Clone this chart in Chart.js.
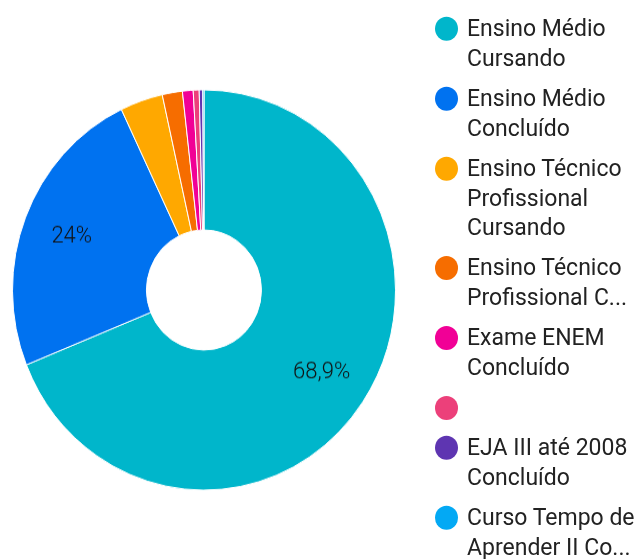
<!DOCTYPE html>
<html>
<head>
<meta charset="utf-8">
<script src="https://cdn.jsdelivr.net/npm/chart.js@4"></script>
<style>
  html, body { margin: 0; padding: 0; background: #fff; }
  #wrap {
    position: absolute; left: 0; top: 0;
    width: 639px; height: 535px;
    transform: scaleY(1.045); transform-origin: 0 0;
  }
  #chartBox { position: absolute; left: 0; top: 0; width: 639px; height: 535px; }
  #legend {
    position: absolute; left: 435px; top: 13.4px;
    margin: 0; padding: 0; list-style: none;
    font-family: Roboto, sans-serif; font-size: 23px; line-height: 28.7px; color: #222;
  }
  #legend li { display: flex; align-items: flex-start; margin-bottom: 9.4px; }
  #legend .dot { width: 23px; height: 23px; border-radius: 50%; margin-top: 2.85px; margin-right: 9px; flex: none; }
  #legend .txt { min-height: 28.7px; white-space: pre; }
</style>
</head>
<body>
<div id="wrap">
  <div id="chartBox"><canvas id="pie"></canvas></div>
  <ul id="legend"></ul>
</div>
<script>
// categorias (como aparecem na legenda, com quebras de linha)
const categories = [
  ['Ensino Médio', 'Cursando'],
  ['Ensino Médio', 'Concluído'],
  ['Ensino Técnico', 'Profissional', 'Cursando'],
  ['Ensino Técnico', 'Profissional C...'],
  ['Exame ENEM', 'Concluído'],
  [''],
  ['EJA III até 2008', 'Concluído'],
  ['Curso Tempo de', 'Aprender II Co...']
];
// porcentagens
const values = [68.9, 24.0, 3.6, 1.7, 0.9, 0.5, 0.3, 0.1];
const colors = ['#00B6CB', '#0072F0', '#FFA800', '#F66D00', '#F10096', '#EC407A', '#5E35B1', '#03A9F4'];

// rótulos de porcentagem dentro das fatias
const sliceLabels = {
  id: 'sliceLabels',
  afterDatasetsDraw(chart) {
    const ctx = chart.ctx;
    const meta = chart.getDatasetMeta(0);
    const total = values.reduce((a, b) => a + b, 0);
    ctx.save();
    ctx.font = '300 22px Roboto';
    ctx.fillStyle = '#111';
    ctx.textAlign = 'center';
    ctx.textBaseline = 'middle';
    meta.data.forEach((arc, i) => {
      const pct = values[i] / total * 100;
      if (pct < 5) return;
      const p = arc.getProps(['x', 'y', 'startAngle', 'endAngle', 'innerRadius', 'outerRadius'], true);
      const mid = (p.startAngle + p.endAngle) / 2;
      const r = p.innerRadius + (p.outerRadius - p.innerRadius) * 0.63;
      const txt = pct.toLocaleString('pt-BR', { maximumSignificantDigits: 3 }) + '%';
      ctx.fillText(txt, p.x + Math.cos(mid) * r, p.y + Math.sin(mid) * r);
    });
    ctx.restore();
  }
};

function buildLegend() {
  const ul = document.getElementById('legend');
  categories.forEach((lines, i) => {
    const li = document.createElement('li');
    const dot = document.createElement('span');
    dot.className = 'dot';
    dot.style.background = colors[i];
    const txt = document.createElement('span');
    txt.className = 'txt';
    txt.textContent = lines.join('\n');
    li.appendChild(dot);
    li.appendChild(txt);
    ul.appendChild(li);
  });
}

function initChart() {
  new Chart(document.getElementById('pie'), {
    type: 'doughnut',
    data: {
      labels: categories.map(l => l.join(' ')),
      datasets: [{
        data: values,
        backgroundColor: colors,
        borderColor: '#fff',
        borderWidth: 1,
        hoverOffset: 0
      }]
    },
    options: {
      responsive: true,
      maintainAspectRatio: false,
      animation: false,
      cutout: '30%',
      layout: { padding: { left: 12, right: 243, top: 85.5, bottom: 65.5 } },
      plugins: {
        legend: { display: false },
        tooltip: { enabled: false }
      }
    },
    plugins: [sliceLabels]
  });
}

buildLegend();
initChart();
</script>
</body>
</html>
